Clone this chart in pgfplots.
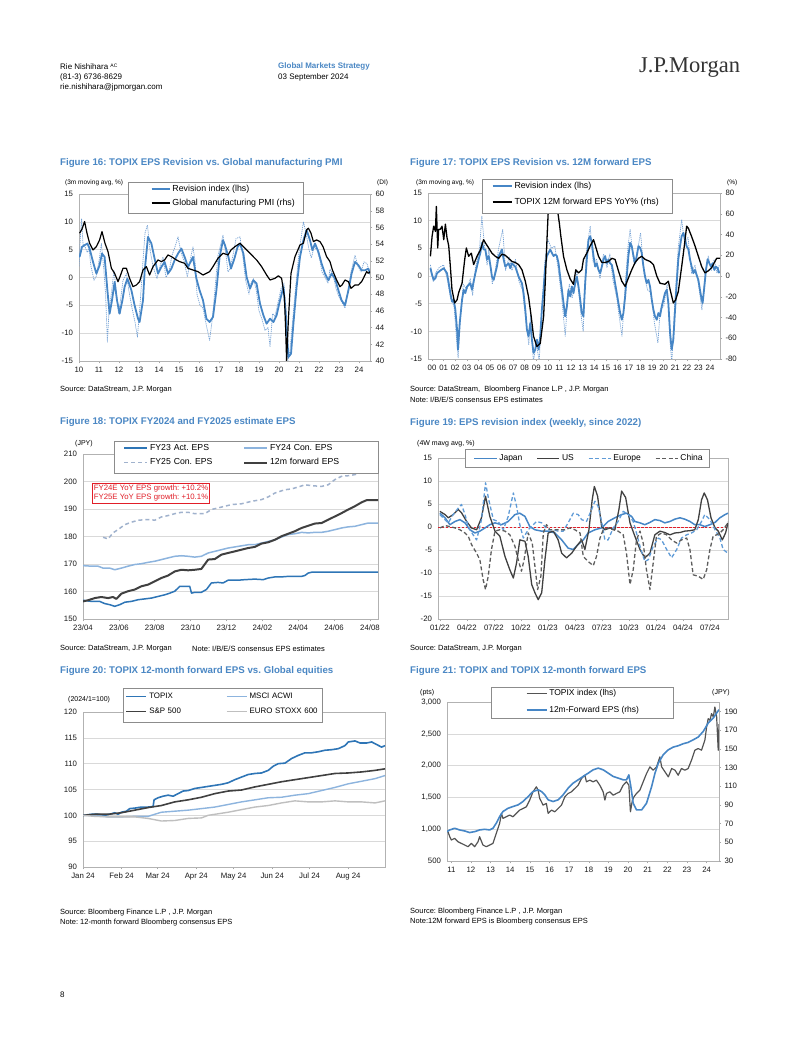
\documentclass[border=0pt]{standalone}
\usepackage{fontspec}
\setmainfont{Liberation Sans}
\newfontfamily\jpserif{Liberation Serif}
\usepackage{pgfplots}
\pgfplotsset{compat=1.18}
\newcommand\fs[2]{\fontsize{#1bp}{#2bp}\selectfont}
\definecolor{jpblue}{RGB}{70,134,198}
\definecolor{jptitle}{RGB}{74,135,196}
\definecolor{jpdark}{RGB}{64,64,64}
\definecolor{jplight}{RGB}{141,180,222}
\definecolor{jpgreyl}{RGB}{191,191,191}
\definecolor{jpdashb}{RGB}{160,178,205}
\definecolor{jpeu}{RGB}{95,155,215}
\definecolor{jpred}{RGB}{225,30,40}
\definecolor{dotblue}{RGB}{115,160,212}
\definecolor{jpfy23}{RGB}{46,117,182}
\pgfplotsset{
 jpbase/.style={scale only axis, anchor=north west, clip mode=individual,
   axis line style={draw=black!30, line width=0.5pt},
   tick label style={font=\fs{7.8}{9}, text=black!90},
   tick align=outside, major tick length=2.5bp,
   every axis plot/.append style={line join=round},
   legend cell align=left,
   legend style={draw=none, fill=none, inner sep=0pt, text=black, anchor=north west},
 },
 jpL/.style={jpbase, ymajorgrids, grid style={draw=black!15, line width=0.4pt},
   xtick pos=bottom, ytick pos=left, ytick style={draw=none}, xtick style={draw=black!35, line width=0.5pt}},
 jpR/.style={jpbase, axis x line=none, axis y line*=right, ytick style={draw=black!35}, major tick length=2bp},
 legline/.style={legend image code/.code={\draw[##1] (0bp,0bp) -- (#1,0bp);}},
}
\tikzset{txt/.style={anchor=west, inner sep=0pt}, lgbox/.style={draw=black!45, fill=white, line width=0.5pt}}
\begin{document}
\frenchspacing
\begin{tikzpicture}
\path[use as bounding box, fill=white] (0,0) rectangle (802bp,1037bp);
% header
\node[txt, font=\fs{8}{9.6}] at (60bp,970bp) {Rie Nishihara \raisebox{2.5bp}{\fs{5}{6}AC}};
\node[txt, font=\fs{8}{9.6}] at (60bp,960bp) {(81-3) 6736-8629};
\node[txt, font=\fs{8}{9.6}] at (60bp,950bp) {rie.nishihara@jpmorgan.com};
\node[txt, font=\bfseries\fs{8}{9.6}, text=jptitle] at (278bp,971bp) {Global Markets Strategy};
\node[txt, font=\fs{8}{9.6}] at (278bp,960bp) {03 September 2024};
\node[txt, font=\jpserif\fs{22.5}{26}, text=black!80] at (639bp,969bp) {J.P.Morgan};
% titles
\node[txt, font=\bfseries\fs{9.7}{11}, text=jptitle] at (60bp,874bp) {Figure 16: TOPIX EPS Revision vs. Global manufacturing PMI};
\node[txt, font=\bfseries\fs{9.7}{11}, text=jptitle] at (410bp,874bp) {Figure 17: TOPIX EPS Revision vs. 12M forward EPS};
\node[txt, font=\bfseries\fs{9.7}{11}, text=jptitle] at (60bp,615bp) {Figure 18: TOPIX FY2024 and FY2025 estimate EPS};
\node[txt, font=\bfseries\fs{9.7}{11}, text=jptitle] at (410bp,614bp) {Figure 19: EPS revision index (weekly, since 2022)};
\node[txt, font=\bfseries\fs{9.7}{11}, text=jptitle] at (60bp,366bp) {Figure 20: TOPIX 12-month forward EPS vs. Global equities};
\node[txt, font=\bfseries\fs{9.7}{11}, text=jptitle] at (410bp,366bp) {Figure 21: TOPIX and TOPIX 12-month forward EPS};
% unit labels
\node[txt, font=\fs{6.5}{8}] at (65bp,854bp) {(3m moving avg, \%)};
\node[txt, font=\fs{6.5}{8}] at (377bp,854bp) {(DI)};
\node[txt, font=\fs{6.5}{8}] at (416bp,854bp) {(3m moving avg, \%)};
\node[txt, font=\fs{6.5}{8}] at (727bp,854bp) {(\%)};
\node[txt, font=\fs{7}{8}] at (75bp,593bp) {(JPY)};
\node[txt, font=\fs{7}{8}] at (417bp,593bp) {(4W mavg avg, \%)};
\node[txt, font=\fs{7}{8}] at (68bp,337bp) {(2024/1=100)};
\node[txt, font=\fs{7}{8}] at (420bp,344bp) {(pts)};
\node[txt, font=\fs{7}{8}] at (712bp,344bp) {(JPY)};
% sources
\node[txt, font=\fs{7.5}{9}] at (60bp,647bp) {Source: DataStream, J.P. Morgan};
\node[txt, font=\fs{7.5}{9}] at (410bp,647bp) {Source: DataStream,\ \ Bloomberg Finance L.P , J.P. Morgan};
\node[txt, font=\fs{7.5}{9}] at (410bp,637bp) {Note: I/B/E/S consensus EPS estimates};
\node[txt, font=\fs{7.5}{9}] at (60bp,388bp) {Source: DataStream, J.P. Morgan};
\node[txt, font=\fs{7.5}{9}] at (192bp,388bp) {Note: I/B/E/S consensus EPS estimates};
\node[txt, font=\fs{7.5}{9}] at (410bp,388bp) {Source: DataStream, J.P. Morgan};
\node[txt, font=\fs{7.5}{9}] at (60bp,124bp) {Source: Bloomberg Finance L.P , J.P. Morgan};
\node[txt, font=\fs{7.5}{9}] at (60bp,114bp) {Note: 12-month forward Bloomberg consensus EPS};
\node[txt, font=\fs{7.5}{9}] at (410bp,125bp) {Source: Bloomberg Finance L.P , J.P. Morgan};
\node[txt, font=\fs{7.5}{9}] at (410bp,115bp) {Note:12M forward EPS is Bloomberg consensus EPS};
\node[txt, font=\fs{8}{9.6}] at (60bp,42bp) {8};

% ================= Figure 16 =================
\begin{axis}[jpL, at={(79bp,843bp)}, width=291bp, height=167bp,
  xmin=2010, xmax=2024.55, ymin=-15, ymax=15,
  xtick={2010,2011,2012,2013,2014,2015,2016,2017,2018,2019,2020,2021,2022,2023,2024},
  xticklabels={10,11,12,13,14,15,16,17,18,19,20,21,22,23,24},
  ytick={-15,-10,-5,0,5,10,15}, yticklabels={-15,-10,-5,0,5,10,15}]
\addplot[dotblue, line width=0.7pt, dash pattern=on 1.2pt off 0.9pt] coordinates {
(2010.0,2.0)(2010.08,8)(2010.13,10.6)(2010.2,6)(2010.3,5.5)(2010.42,4.5)(2010.5,5.2)(2010.6,2)(2010.75,-0.5)(2010.87,0.3)
(2011.0,3)(2011.12,6.1)(2011.25,1)(2011.33,-3)(2011.42,-11.6)(2011.5,-6)(2011.6,-3.3)(2011.75,1.3)(2011.85,-2)(2011.98,-6.5)
(2012.08,-4)(2012.2,-0.5)(2012.37,0.7)(2012.5,-2.5)(2012.65,-5.5)(2012.8,-8)(2012.92,-10.7)(2013.05,-5)(2013.2,3)(2013.3,8)
(2013.42,9.4)(2013.55,5)(2013.7,2)(2013.9,-0.2)(2014.05,2)(2014.2,3.7)(2014.35,0)(2014.5,1)(2014.65,4)(2014.8,5.5)
(2014.95,7.3)(2015.1,4.5)(2015.25,3)(2015.42,0.1)(2015.55,3)(2015.7,5.5)(2015.8,3)(2015.9,-3)(2016.05,-5)(2016.2,-5.5)
(2016.35,-8.3)(2016.53,-11.3)(2016.68,-7)(2016.8,-2)(2016.95,4)(2017.2,7.6)(2017.35,4)(2017.45,1)(2017.55,1.5)(2017.7,4)
(2017.85,7)(2018.05,7.3)(2018.2,3.5)(2018.33,-0.5)(2018.5,-3)(2018.6,-1)(2018.72,-0.2)(2018.85,-2)(2019.0,-6)(2019.15,-7.5)
(2019.3,-9.5)(2019.45,-9)(2019.55,-12.5)(2019.68,-6.5)(2019.8,-7)(2019.95,-4.5)(2020.1,-2)(2020.25,-1)(2020.35,-9)(2020.45,-14.9)
(2020.55,-13)(2020.7,-7)(2020.85,-1)(2021.0,4.5)(2021.1,7)(2021.22,10)(2021.35,8)(2021.5,5)(2021.62,3.5)(2021.75,5.5)
(2021.9,5)(2022.05,3)(2022.15,1)(2022.3,0)(2022.45,-1)(2022.55,1.5)(2022.7,0.5)(2022.85,-2)(2023.0,-3.5)(2023.15,-4.5)
(2023.3,-5.5)(2023.45,-2.5)(2023.6,1)(2023.8,4)(2023.95,2)(2024.1,1)(2024.25,2.8)(2024.4,2.5)(2024.55,0.5)};
\addplot[jpblue, line width=1.8pt] coordinates {
(2010.03,3.7)(2010.15,5.5)(2010.28,5.8)(2010.42,6.1)(2010.53,5.2)(2010.70,2.8)(2010.87,0.7)(2011.03,2.2)(2011.15,4.3)(2011.28,3.7)
(2011.42,-2.3)(2011.53,-6.5)(2011.65,-4.1)(2011.78,-0.8)(2011.90,-4.1)(2012.03,-6.5)(2012.17,-4.1)(2012.28,-1.7)(2012.42,-0.2)(2012.62,-2.3)
(2012.78,-5.0)(2012.95,-7.4)(2013.03,-8.0)(2013.2,-4.1)(2013.28,1.0)(2013.45,7.3)(2013.62,6.1)(2013.78,3.4)(2013.95,0.7)(2014.12,1.9)
(2014.28,2.8)(2014.45,0.7)(2014.62,1.6)(2014.78,3.1)(2014.95,4.3)(2015.12,5.2)(2015.28,3.7)(2015.45,1.9)(2015.62,3.1)(2015.70,3.7)
(2015.87,-0.2)(2016.03,-2.3)(2016.2,-4.1)(2016.37,-7.4)(2016.53,-8.0)(2016.70,-7.1)(2016.87,-2.3)(2017.03,3.7)(2017.2,6.7)(2017.3,5.8)
(2017.47,3.7)(2017.6,1.6)(2017.77,3.4)(2017.93,5.5)(2018.05,6.1)(2018.22,4.3)(2018.38,0.1)(2018.55,-2.0)(2018.72,-0.5)(2018.88,-1.1)
(2019.05,-4.7)(2019.22,-6.8)(2019.38,-8.3)(2019.55,-7.4)(2019.72,-8.0)(2019.88,-6.8)(2020.05,-4.1)(2020.22,-1.7)(2020.33,-6)(2020.47,-14.3)
(2020.6,-13.7)(2020.72,-8.3)(2020.88,-1.7)(2021.05,3.7)(2021.22,6.7)(2021.38,8.5)(2021.55,6.7)(2021.67,4.9)(2021.8,6.1)(2021.97,4.6)
(2022.13,2.5)(2022.3,0.7)(2022.47,-0.5)(2022.63,0.7)(2022.8,-0.2)(2022.97,-2.3)(2023.13,-4.1)(2023.3,-5.0)(2023.47,-2.3)(2023.63,0.7)
(2023.8,2.8)(2023.97,2.2)(2024.13,1.3)(2024.3,1.3)(2024.47,1.6)(2024.55,0.7)};
\end{axis}
\begin{axis}[jpR, at={(79bp,843bp)}, width=291bp, height=167bp,
  xmin=2010, xmax=2024.55, ymin=40, ymax=60,
  ytick={40,42,44,46,48,50,52,54,56,58,60}, yticklabels={40,42,44,46,48,50,52,54,56,58,60},
  legline=18bp,
  legend style={at={(0.2457,1.066)}, row sep=2bp, font=\fs{8.8}{10}}]
\addlegendimage{jpblue, line width=1.8pt}\addlegendentry{Revision index (lhs)}
\addplot[black, line width=1.2pt] coordinates {
(2010.03,55.3)(2010.15,55.8)(2010.28,56.7)(2010.4,55.3)(2010.53,54.1)(2010.7,53.3)(2010.87,53.7)(2011.03,54.5)(2011.15,55.5)(2011.3,54.1)
(2011.45,53.1)(2011.62,51.1)(2011.78,50.5)(2011.95,49.5)(2012.05,50.1)(2012.2,51.1)(2012.37,51.1)(2012.53,49.9)(2012.7,48.9)(2012.87,49.1)
(2013.03,49.5)(2013.2,50.9)(2013.37,51.3)(2013.53,50.3)(2013.7,51.3)(2013.95,52.1)(2014.12,51.9)(2014.28,52.1)(2014.45,52.7)(2014.62,52.5)
(2014.87,52.1)(2015.03,51.9)(2015.28,51.7)(2015.45,51.1)(2015.7,50.9)(2015.95,50.7)(2016.2,50.3)(2016.37,50.5)(2016.53,50.7)(2016.7,51.3)
(2016.95,52.3)(2017.2,52.9)(2017.45,52.7)(2017.6,53.3)(2017.8,53.7)(2018.05,54.1)(2018.22,53.7)(2018.38,53.3)(2018.63,52.7)(2018.88,52.1)
(2019.13,51.3)(2019.38,50.3)(2019.55,49.7)(2019.8,49.9)(2019.97,50.2)(2020.13,49.9)(2020.27,47.7)(2020.33,44)(2020.38,40.0)(2020.47,45)
(2020.6,50.5)(2020.8,52.5)(2021.05,53.9)(2021.22,54.1)(2021.38,55.7)(2021.47,55.9)(2021.6,55.3)(2021.72,54.3)(2021.88,54.5)(2022.05,54.3)
(2022.2,53.7)(2022.38,52.5)(2022.55,51.9)(2022.67,50.9)(2022.88,49.7)(2023.05,48.9)(2023.15,49.1)(2023.3,49.7)(2023.47,49.5)(2023.6,48.7)
(2023.8,49.1)(2023.97,49.1)(2024.13,49.5)(2024.22,49.9)(2024.38,50.7)(2024.47,50.5)(2024.55,50.7)};
\addlegendentry{Global manufacturing PMI (rhs)}
\draw[lgbox] (rel axis cs:0.1684,1.0719) rectangle (rel axis cs:0.7698,0.8862);
\end{axis}

% ================= Figure 17 =================
\begin{axis}[jpL, at={(428bp,844bp)}, width=292bp, height=166bp,
  xmin=1999.65, xmax=2024.86, ymin=-15, ymax=15,
  xtick={2000,2001,2002,2003,2004,2005,2006,2007,2008,2009,2010,2011,2012,2013,2014,2015,2016,2017,2018,2019,2020,2021,2022,2023,2024},
  xticklabels={00,01,02,03,04,05,06,07,08,09,10,11,12,13,14,15,16,17,18,19,20,21,22,23,24},
  ytick={-15,-10,-5,0,5,10,15}, yticklabels={-15,-10,-5,0,5,10,15}]
\addplot[dotblue, line width=0.7pt, dash pattern=on 1.2pt off 0.9pt] coordinates {
(1999.86,2)(2000.1,-1)(2000.3,0.5)(2000.6,1.5)(2001.0,2)(2001.3,-0.5)(2001.6,-4)(2001.9,-5.5)(2002.1,-11)(2002.25,-14.8)
(2002.45,-7)(2002.7,-1.5)(2003.0,-2.5)(2003.3,-0.5)(2003.5,-3.5)(2003.75,1.5)(2004.1,5)(2004.3,10.8)(2004.5,6)(2004.75,2)
(2004.9,5)(2005.2,-1.5)(2005.45,1)(2005.75,5)(2006.1,8.4)(2006.35,1)(2006.65,3.5)(2006.9,1)(2007.2,3)(2007.5,-1)
(2007.8,-2.5)(2008.1,-8)(2008.35,-12.5)(2008.5,-7)(2008.75,-15.5)(2009.0,-12)(2009.25,-15.5)(2009.5,-5)(2009.75,3)(2010.0,6.6)
(2010.3,5)(2010.6,5.4)(2010.9,1)(2011.2,-4)(2011.5,-10.9)(2011.7,-4)(2011.85,-1.5)(2012.1,-4)(2012.5,1)(2012.8,-6)
(2013.05,-10)(2013.3,4)(2013.65,9.0)(2013.9,2.5)(2014.2,3)(2014.5,-0.5)(2014.8,4)(2015.1,1.5)(2015.35,4)(2015.6,-0.5)
(2015.95,-4)(2016.2,-8)(2016.4,-10.9)(2016.65,-2.5)(2016.9,5)(2017.1,8.4)(2017.4,2.5)(2017.6,3)(2018.0,7.8)(2018.3,0.5)
(2018.6,-2.5)(2018.9,-3)(2019.2,-8.5)(2019.5,-12.1)(2019.7,-6)(2020.0,-5.5)(2020.3,-1.5)(2020.55,-12)(2020.7,-15.7)(2020.95,-5)
(2021.25,5)(2021.55,10.2)(2021.8,6)(2022.1,7)(2022.4,0.5)(2022.7,2)(2023.0,-1.5)(2023.3,-6.1)(2023.6,1)(2023.85,3.6)
(2024.1,1)(2024.35,3)(2024.6,0.5)(2024.8,2)};
\addplot[jpblue, line width=1.8pt] coordinates {
(1999.86,1.4)(2000.0,0.2)(2000.14,-0.7)(2000.29,-0.4)(2000.43,0.5)(2000.72,1.0)(2001.01,1.4)(2001.29,0.5)(2001.44,-1.3)(2001.58,-3.1)
(2001.72,-4.6)(2001.87,-4.3)(2002.01,-6.1)(2002.16,-9.7)(2002.24,-13.3)(2002.39,-8.5)(2002.59,-4.3)(2002.73,-2.5)(2002.87,-3.1)(2003.02,-1.9)
(2003.30,-1.3)(2003.45,-2.5)(2003.59,-1.0)(2003.74,0.5)(2004.02,3.0)(2004.17,4.2)(2004.31,6.0)(2004.45,4.8)(2004.60,4.8)(2004.74,3.0)
(2004.89,3.6)(2005.03,2.0)(2005.17,-0.1)(2005.32,-0.7)(2005.46,0.5)(2005.60,1.7)(2005.75,3.6)(2006.03,4.8)(2006.18,3.0)(2006.32,1.7)
(2006.61,2.3)(2006.75,1.4)(2006.90,2.3)(2007.18,1.7)(2007.47,-0.1)(2007.76,-1.3)(2007.90,-3.1)(2008.05,-6.1)(2008.19,-9.7)(2008.33,-10.9)
(2008.48,-8.5)(2008.62,-11.5)(2008.76,-13.9)(2008.91,-13.3)(2009.05,-11.5)(2009.20,-13.3)(2009.34,-10.9)(2009.48,-6.1)(2009.63,-2.5)(2009.77,1.7)
(2009.91,3.6)(2010.06,4.2)(2010.20,4.8)(2010.34,4.2)(2010.49,3.6)(2010.63,3.9)(2010.78,3.6)(2010.92,2.3)(2011.06,-0.1)(2011.21,-2.5)
(2011.35,-4.9)(2011.49,-7.3)(2011.64,-5.5)(2011.78,-2.5)(2011.93,-3.7)(2012.07,-1.9)(2012.21,-3.1)(2012.36,-1.3)(2012.50,-0.1)(2012.64,-1.9)
(2012.79,-4.3)(2012.93,-6.7)(2013.07,-7.3)(2013.22,-1.3)(2013.36,3.0)(2013.51,6.6)(2013.65,7.2)(2013.79,6.0)(2013.94,3.6)(2014.08,1.7)
(2014.22,2.3)(2014.37,1.1)(2014.51,0.5)(2014.66,1.7)(2014.80,3.0)(2014.94,3.6)(2015.09,2.3)(2015.23,3.0)(2015.37,2.3)(2015.52,2.0)
(2015.66,0.5)(2015.80,-1.3)(2015.95,-3.1)(2016.09,-4.9)(2016.24,-6.7)(2016.38,-7.9)(2016.52,-6.7)(2016.67,-3.7)(2016.81,-0.1)(2016.95,3.6)
(2017.10,6.0)(2017.24,5.4)(2017.39,3.6)(2017.53,2.3)(2017.67,3.6)(2017.82,5.4)(2017.96,5.1)(2018.10,4.2)(2018.25,1.7)(2018.39,-0.1)
(2018.53,-1.3)(2018.68,-0.7)(2018.82,-1.9)(2018.97,-4.3)(2019.11,-6.1)(2019.25,-7.3)(2019.40,-7.9)(2019.54,-6.7)(2019.68,-7.3)(2019.83,-5.5)
(2019.97,-4.3)(2020.11,-3.1)(2020.26,-2.5)(2020.40,-4.9)(2020.55,-10.3)(2020.69,-13.3)(2020.83,-11.5)(2020.98,-6.1)(2021.12,-1.3)(2021.26,3.0)
(2021.41,5.4)(2021.55,7.2)(2021.70,7.8)(2021.84,6.6)(2021.98,5.4)(2022.13,4.8)(2022.27,3.0)(2022.41,1.7)(2022.56,0.5)(2022.70,1.1)
(2022.84,0.2)(2022.99,-0.7)(2023.13,-2.5)(2023.28,-4.3)(2023.36,-4.9)(2023.51,-1.9)(2023.65,1.1)(2023.79,3.0)(2023.94,2.3)(2024.08,1.7)
(2024.22,2.3)(2024.37,1.1)(2024.51,1.7)(2024.66,1.4)(2024.80,0.5)};
\end{axis}
\begin{axis}[jpR, at={(428bp,844bp)}, width=292bp, height=166bp,
  xmin=1999.65, xmax=2024.86, ymin=-80, ymax=80,
  ytick={-80,-60,-40,-20,0,20,40,60,80}, yticklabels={-80,-60,-40,-20,0,20,40,60,80},
  legline=19bp,
  legend style={at={(0.2175,1.078)}, row sep=4bp, font=\fs{8.8}{10}}]
\addlegendimage{jpblue, line width=1.8pt}\addlegendentry{Revision index (lhs)}
\addplot[black, line width=1.3pt] coordinates {
(1999.86,19)(2000.0,38)(2000.14,48)(2000.29,43)(2000.37,67)(2000.49,27)(2000.57,45)(2000.72,45)(2000.86,48)(2001.01,35)
(2001.15,50)(2001.29,37)(2001.44,29)(2001.58,9)(2001.72,-13)(2001.95,-26)(2002.16,-23)(2002.30,-16)(2002.59,-7)(2002.82,16)
(2002.96,27)(2003.16,19)(2003.39,22)(2003.59,11)(2003.88,19)(2004.17,25)(2004.45,35)(2004.60,32)(2004.89,27)(2005.17,22)
(2005.46,19)(2005.75,17)(2006.03,21)(2006.32,20)(2006.61,17)(2006.90,14)(2007.18,13)(2007.47,11)(2007.76,6)(2008.05,-5)
(2008.33,-20)(2008.56,-39)(2008.76,-58)(2009.05,-68)(2009.34,-65)(2009.63,-39)(2009.77,-7)(2009.91,32)(2010.06,70)(2010.15,82)
(2010.3,100)(2010.55,100)(2010.72,80)(2010.85,62)(2011.0,50)(2011.1,40)(2011.35,19)(2011.64,6)(2011.93,-3)(2012.21,-8)
(2012.41,6)(2012.64,3)(2012.93,6)(2013.07,16)(2013.36,22)(2013.65,29)(2013.94,35)(2014.08,30)(2014.37,19)(2014.66,13)
(2014.94,13)(2015.23,14)(2015.52,17)(2015.80,16)(2016.09,5)(2016.38,-5)(2016.67,-10)(2016.95,-2)(2017.24,6)(2017.53,13)
(2017.82,17)(2018.10,19)(2018.39,16)(2018.82,14)(2019.11,11)(2019.40,0)(2019.68,-7)(2020.11,-8)(2020.40,-5)(2020.55,-13)
(2020.83,-26)(2021.03,-23)(2021.26,-15)(2021.55,9)(2021.78,29)(2021.98,48)(2022.13,46)(2022.41,38)(2022.70,29)(2022.99,19)
(2023.28,9)(2023.56,3)(2023.85,5)(2024.14,8)(2024.28,11)(2024.57,17)(2024.86,17)};
\addlegendentry{TOPIX 12M forward EPS YoY\% (rhs)}
\draw[lgbox] (rel axis cs:0.185,1.0843) rectangle (rel axis cs:0.8356,0.8795);
\end{axis}

% ================= Figure 18 =================
\begin{axis}[jpL, at={(83bp,583bp)}, width=295bp, height=165bp,
  xmin=0, xmax=16.45, ymin=150, ymax=210,
  xtick={0,2,4,6,8,10,12,14,16},
  xticklabels={23/04,23/06,23/08,23/10,23/12,24/02,24/04,24/06,24/08},
  ytick={150,160,170,180,190,200,210}, yticklabels={150,160,170,180,190,200,210},
  legend columns=2, legline=23bp,
  legend style={at={(0.137,1.073)}, row sep=3bp, font=\fs{8.7}{10},
    nodes={text width=85bp}, /tikz/every even column/.append style={column sep=6bp}}]
\addplot[jpfy23, line width=1.5pt] coordinates {
(0,156.8)(0.47,156.4)(0.93,156.4)(1.21,155.6)(1.49,155.2)(1.77,154.6)(2.05,155.2)(2.33,156.1)(2.70,156.4)(3.07,157.0)
(3.44,157.3)(3.81,157.6)(4.19,158.2)(4.56,158.8)(4.84,159.4)(5.12,160.1)(5.40,161.9)(5.77,161.9)(5.95,161.9)(6.05,159.4)
(6.23,159.7)(6.60,159.7)(6.88,160.7)(7.16,163.1)(7.53,163.3)(7.81,163.1)(8.09,164.1)(8.65,164.1)(9.02,164.3)(9.58,164.5)
(10.05,164.3)(10.33,164.9)(10.70,165.3)(11.07,165.3)(11.44,165.5)(11.81,165.5)(12.19,165.5)(12.37,165.8)(12.56,166.7)(12.74,167.0)
(13.30,167.0)(16.45,167.0)};
\addlegendentry{FY23 Act. EPS}
\addplot[jplight, line width=1.5pt] coordinates {
(0,169.4)(0.47,169.2)(0.84,169.2)(1.12,168.5)(1.49,168.5)(1.77,167.9)(2.14,168.5)(2.51,169.2)(2.88,169.8)(3.26,170.1)
(3.63,170.6)(4.0,171.0)(4.37,171.6)(4.74,172.2)(5.12,172.8)(5.49,173.0)(5.86,172.8)(6.23,172.5)(6.60,172.8)(6.98,174.0)
(7.35,174.6)(7.72,175.2)(8.09,175.8)(8.65,176.4)(9.21,177.0)(9.58,177.0)(9.95,177.6)(10.33,178.2)(10.70,178.8)(11.07,179.8)
(11.44,180.7)(11.81,181.0)(12.19,181.5)(12.56,181.3)(12.93,181.5)(13.30,181.5)(13.67,181.9)(14.05,182.5)(14.42,183.1)(14.79,183.5)
(15.16,183.7)(15.53,184.3)(15.91,184.9)(16.45,184.9)};
\addlegendentry{FY24 Con. EPS}
\addplot[jpdashb, line width=1.5pt, dash pattern=on 4pt off 3pt] coordinates {
(1.12,179.7)(1.40,179.1)(1.67,181.3)(1.95,182.5)(2.33,184.3)(2.70,185.2)(3.07,185.9)(3.44,186.1)(3.81,186.1)(4.0,185.9)
(4.37,187.1)(4.74,187.6)(5.12,188.3)(5.49,188.8)(5.86,188.8)(6.23,188.3)(6.79,188.3)(7.16,189.8)(7.53,190.4)(7.91,191.0)
(8.28,191.6)(8.84,191.9)(9.40,192.8)(9.95,193.4)(10.33,194.4)(10.70,195.8)(11.26,197.0)(11.63,197.3)(12.0,198.0)(12.37,198.8)
(12.74,198.5)(13.30,198.2)(13.67,198.8)(14.05,200.7)(14.42,201.9)(14.79,202.1)(15.16,202.5)(15.53,203.3)(15.91,203.6)(16.45,203.3)};
\addlegendentry{FY25 Con. EPS}
\addplot[jpdark, line width=2pt] coordinates {
(0,156.4)(0.28,156.8)(0.65,157.6)(1.02,158.0)(1.40,157.6)(1.67,158.0)(1.86,157.3)(2.14,159.2)(2.51,160.1)(2.88,160.7)
(3.26,161.9)(3.63,162.5)(4.0,163.7)(4.37,164.9)(4.74,165.8)(5.12,167.3)(5.49,167.9)(5.86,167.7)(6.23,167.9)(6.60,168.2)
(6.98,171.6)(7.35,171.8)(7.72,173.4)(8.09,174.0)(8.47,174.6)(8.84,175.2)(9.21,175.8)(9.58,176.2)(9.95,177.4)(10.33,177.9)
(10.70,178.8)(11.07,180.1)(11.44,181.0)(11.81,181.9)(12.19,183.1)(12.56,183.9)(12.93,184.7)(13.30,184.9)(13.67,186.1)(14.05,187.3)
(14.42,188.5)(14.79,189.8)(15.16,191.0)(15.53,192.4)(15.81,193.2)(16.45,193.2)};
\addlegendentry{12m forward EPS}
\draw[lgbox] (rel axis cs:0.105,1.0788) rectangle (rel axis cs:1.0,0.8848);
\end{axis}
\node[draw=jpred, fill=white, text=jpred, font=\fs{7.8}{9.5}, align=left, inner sep=1.5bp, line width=0.5pt] at (151bp,544bp) {FY24E YoY EPS growth: +10.2\%\\FY25E YoY EPS growth: +10.1\%};

% ================= Figure 19 =================
\begin{axis}[jpL, at={(438bp,579bp)}, width=290bp, height=161bp,
  xmin=-0.07, xmax=10.67, ymin=-20, ymax=15,
  xtick={0,1,2,3,4,5,6,7,8,9,10},
  xticklabels={01/22,04/22,07/22,10/22,01/23,04/23,07/23,10/23,01/24,04/24,07/24},
  ytick={-20,-15,-10,-5,0,5,10,15}, yticklabels={-20,-15,-10,-5,0,5,10,15},
  legend columns=4, legline=22bp, legend image post style={line width=1.6pt},
  legend style={at={(0.1224,1.034)}, font=\fs{8.5}{9.5},
    /tikz/every even column/.append style={column sep=12bp}}]
\addplot[jpred, line width=0.9pt, dash pattern=on 2.5pt off 1.5pt, forget plot] coordinates {(-0.07,0)(10.67,0)};
\addplot[jpblue, line width=1.5pt] coordinates {
(0,3.0)(0.19,2.0)(0.37,0.5)(0.56,1.2)(0.74,1.6)(0.93,0.9)(1.11,-0.6)(1.30,-1.3)(1.48,-0.9)(1.67,-0.2)
(1.85,0.5)(2.04,0.9)(2.28,0.5)(2.53,1.2)(2.78,2.7)(2.96,3.0)(3.15,2.3)(3.33,0.1)(3.52,-0.6)(3.77,-0.9)
(4.01,-0.9)(4.26,-1.3)(4.51,-2.8)(4.75,-4.6)(4.94,-4.9)(5.12,-3.8)(5.31,-2.8)(5.49,-1.3)(5.74,-0.6)(5.99,-0.2)
(6.23,1.2)(6.48,2.0)(6.73,2.7)(6.91,3.0)(7.10,2.3)(7.22,1.2)(7.41,0.9)(7.59,0.5)(7.78,1.0)(7.96,1.6)
(8.15,1.4)(8.33,0.9)(8.52,1.2)(8.70,1.7)(8.89,2.0)(9.07,1.7)(9.26,1.2)(9.44,0.5)(9.63,0.5)(9.81,0.1)
(10.0,0.5)(10.19,1.0)(10.37,2.0)(10.56,2.7)(10.67,3.0)};
\addlegendentry{Japan}
\addplot[jpdark, line width=1.3pt] coordinates {
(0,3.4)(0.19,2.7)(0.31,2.0)(0.49,2.7)(0.68,3.8)(0.80,3.1)(0.99,1.2)(1.17,-0.2)(1.36,-0.6)(1.54,2.0)
(1.69,6.7)(1.85,2.3)(2.04,-0.9)(2.22,-2.0)(2.41,-6.4)(2.59,-9.3)(2.72,-11.1)(2.84,-7.8)(2.96,-2.8)(3.15,-3.1)
(3.27,-6.4)(3.40,-12.5)(3.52,-14.3)(3.64,-15.8)(3.77,-14.3)(3.89,-7.1)(4.01,-1.3)(4.20,-0.9)(4.38,-2.8)(4.51,-5.7)
(4.69,-6.7)(4.88,-5.7)(5.06,-4.2)(5.25,-2.8)(5.37,-4.9)(5.52,-0.6)(5.64,5.9)(5.72,8.8)(5.84,6.7)(5.99,0.1)
(6.11,-0.6)(6.30,-0.2)(6.48,-0.6)(6.63,3.8)(6.73,7.8)(6.88,6.4)(7.04,0.9)(7.22,-2.0)(7.41,-4.9)(7.59,-6.7)
(7.78,-5.7)(7.96,-1.7)(8.15,-0.9)(8.33,-1.2)(8.52,-1.7)(8.70,-1.3)(8.89,-1.2)(9.07,-0.9)(9.26,-0.8)(9.44,-0.6)
(9.57,1.6)(9.69,5.9)(9.79,7.4)(9.91,5.9)(10.04,2.0)(10.19,-0.2)(10.31,-0.9)(10.46,-2.8)(10.58,-1.3)(10.67,0.9)};
\addlegendentry{US}
\addplot[jpeu, line width=1.3pt, dash pattern=on 4pt off 2.5pt] coordinates {
(0,2.7)(0.12,2.0)(0.31,0.9)(0.49,2.7)(0.68,4.1)(0.80,4.9)(0.93,2.7)(1.05,0.1)(1.23,-1.7)(1.36,-2.8)
(1.54,1.6)(1.69,9.6)(1.81,5.9)(1.98,1.6)(2.16,1.2)(2.35,-0.6)(2.53,2.3)(2.72,7.4)(2.84,4.5)(2.96,0.5)
(3.09,-2.4)(3.27,-0.6)(3.46,0.5)(3.58,1.2)(3.77,0.9)(3.89,0.1)(4.01,-0.6)(4.20,-0.6)(4.38,-0.9)(4.57,-0.9)
(4.75,0.9)(4.94,3.0)(5.12,2.7)(5.25,1.6)(5.43,1.2)(5.62,3.8)(5.74,5.6)(5.86,4.5)(5.99,1.2)(6.11,-2.8)
(6.23,-2.8)(6.42,-0.2)(6.60,1.2)(6.79,3.4)(6.98,2.7)(7.16,1.2)(7.28,-1.3)(7.41,-4.2)(7.59,-7.5)(7.72,-7.1)
(7.90,-4.2)(8.09,-2.4)(8.21,-2.8)(8.40,-4.9)(8.58,-6.7)(8.77,-4.9)(8.95,-2.4)(9.14,-1.7)(9.32,-1.3)(9.51,-0.6)
(9.69,1.2)(9.81,2.7)(10.0,1.6)(10.19,-0.6)(10.37,-2.4)(10.49,-4.9)(10.67,-5.7)};
\addlegendentry{Europe}
\addplot[jpdark!85, line width=1.3pt, dash pattern=on 4pt off 2.5pt] coordinates {
(0,-0.2)(0.19,0.3)(0.37,0.1)(0.56,-0.2)(0.74,-0.6)(0.93,-1.3)(1.05,-2.0)(1.17,-3.8)(1.36,-5.7)(1.48,-7.1)
(1.60,-11.4)(1.69,-13.6)(1.79,-10.7)(1.91,-4.9)(2.04,-0.9)(2.22,-0.6)(2.41,-0.9)(2.59,-1.7)(2.78,-4.2)(2.90,-7.1)
(3.02,-9.6)(3.12,-7.1)(3.27,-1.3)(3.42,-3.5)(3.52,-8.6)(3.62,-13.6)(3.74,-10.7)(3.83,-1.3)(3.95,0.5)(4.07,-0.6)
(4.26,-0.6)(4.44,-0.6)(4.63,-0.6)(4.81,-0.2)(5.0,-0.6)(5.19,-1.3)(5.31,-6.4)(5.49,-7.5)(5.68,-8.4)(5.80,-6.4)
(5.93,-2.4)(6.05,-0.6)(6.23,-0.2)(6.42,-0.6)(6.60,-0.9)(6.79,-1.7)(6.91,-5.7)(7.04,-12.5)(7.16,-9.3)(7.28,-2.8)
(7.41,-0.9)(7.53,-3.5)(7.65,-9.3)(7.78,-13.6)(7.90,-7.8)(8.02,-2.0)(8.21,-1.3)(8.40,-1.7)(8.58,-2.8)(8.77,-3.5)
(8.95,-2.8)(9.14,-2.4)(9.26,-4.9)(9.38,-10.4)(9.57,-10.7)(9.75,-11.4)(9.88,-9.3)(10.0,-4.9)(10.12,-2.0)(10.25,-1.7)
(10.37,-1.3)(10.49,-0.6)(10.62,0.5)(10.67,1.2)};
\addlegendentry{China}
\draw[lgbox] (rel axis cs:0.0931,1.0559) rectangle (rel axis cs:0.9345,0.944);
\end{axis}

% ================= Figure 20 =================
\begin{axis}[jpL, at={(83bp,325bp)}, width=302bp, height=155bp,
  xmin=0, xmax=242.6, ymin=90, ymax=120,
  xtick={0,31,60,91,121,152,182,213},
  xticklabels={Jan 24,Feb 24,Mar 24,Apr 24,May 24,Jun 24,Jul 24,Aug 24},
  ytick={90,95,100,105,110,115,120}, yticklabels={90,95,100,105,110,115,120},
  legend columns=2, legline=20bp,
  legend style={at={(0.1407,1.1355)}, row sep=4bp, font=\fs{7.9}{9.5},
    nodes={text width=70bp}, /tikz/every even column/.append style={column sep=5bp}}]
\addplot[jpfy23, line width=1.6pt] coordinates {
(0,100)(6.7,100.2)(12.1,100.2)(17.4,100)(22.8,100.3)(25.5,100.5)(28.2,100.2)(30.8,100.6)(34.9,100.8)(37.5,101.3)
(41.6,101.4)(46.9,101.6)(52.3,101.6)(56.3,101.7)(57.1,103.0)(60.3,103.4)(64.3,103.7)(68.4,103.9)(72.4,103.7)(76.4,104.2)
(80.4,104.7)(84.5,104.8)(89.8,105.2)(95.2,105.4)(100.5,105.6)(105.9,105.8)(111.3,106.0)(116.6,106.3)(122.0,106.9)(127.3,107.4)
(132.7,107.9)(138.1,108.1)(143.4,108.2)(148.8,108.7)(152.8,109.5)(156.8,110.0)(162.2,110.1)(167.6,111.0)(172.9,111.6)(178.3,112.1)
(183.6,112.1)(189.0,112.3)(194.4,112.6)(199.7,112.7)(205.1,112.9)(210.5,113.5)(213.1,114.2)(218.5,114.4)(222.5,114.0)(227.9,114.0)
(231.9,114.2)(235.9,113.7)(239.9,113.2)(242.6,113.5)};
\addlegendentry{TOPIX}
\addplot[jplight, line width=1.4pt] coordinates {
(0,100)(9.4,100)(20.1,99.7)(30.8,99.7)(41.6,99.8)(52.3,99.8)(57.6,100.2)(63.0,100.6)(73.7,100.8)(84.5,101.0)
(95.2,101.3)(105.9,101.6)(116.6,102.1)(127.3,102.6)(138.1,103.0)(148.8,103.4)(159.5,103.5)(170.2,103.9)(181.0,104.2)(191.7,104.8)
(202.4,105.4)(213.1,106.1)(223.9,106.6)(234.6,107.1)(242.6,107.7)};
\addlegendentry{MSCI ACWI}
\addplot[jpdark, line width=1.6pt] coordinates {
(0,100)(9.4,100.2)(20.1,100.2)(30.8,100.5)(41.6,101.0)(52.3,101.5)(63.0,101.9)(73.7,102.6)(84.5,103.0)(95.2,103.5)
(105.9,104.2)(116.6,104.7)(122,104.8)(127.3,104.9)(138.1,105.5)(148.8,106.0)(159.5,106.5)(170.2,106.9)(181.0,107.3)(191.7,107.7)
(202.4,108.1)(213.1,108.2)(223.9,108.4)(234.6,108.7)(242.6,109.0)};
\addlegendentry{S\&P 500}
\addplot[jpgreyl, line width=1.4pt] coordinates {
(0,100)(9.4,99.8)(20.1,99.7)(30.8,99.7)(41.6,99.7)(52.3,99.4)(63.0,98.9)(73.7,99.0)(84.5,99.4)(95.2,99.5)
(100.5,100)(105.9,100.2)(116.6,100.6)(127.3,101.1)(138.1,101.6)(148.8,101.9)(159.5,102.4)(170.2,102.8)(181.0,102.6)(191.7,102.6)
(202.4,102.8)(213.1,102.6)(223.9,102.6)(234.6,102.4)(242.6,102.8)};
\addlegendentry{EURO STOXX 600}
\draw[lgbox] (rel axis cs:0.1325,1.1548) rectangle (rel axis cs:0.7914,0.9355);
\end{axis}

% ================= Figure 21 =================
\begin{axis}[jpL, at={(447bp,335bp)}, width=272bp, height=159bp,
  xmin=2010.78, xmax=2024.63, ymin=500, ymax=3000,
  xtick={2011,2012,2013,2014,2015,2016,2017,2018,2019,2020,2021,2022,2023,2024},
  xticklabels={11,12,13,14,15,16,17,18,19,20,21,22,23,24},
  ytick={500,1000,1500,2000,2500,3000}, yticklabels={500,{1,000},{1,500},{2,000},{2,500},{3,000}}]
\addplot[jpdark!90, line width=1.2pt] coordinates {
(2010.83,960)(2010.92,882)(2011.0,830)(2011.17,856)(2011.34,803)(2011.51,777)(2011.68,751)(2011.85,725)(2012.02,777)(2012.19,725)
(2012.36,803)(2012.44,882)(2012.61,751)(2012.78,725)(2012.95,751)(2013.12,777)(2013.29,934)(2013.46,1091)(2013.55,1248)(2013.63,1170)
(2013.80,1196)(2013.97,1222)(2014.14,1196)(2014.31,1248)(2014.48,1300)(2014.65,1326)(2014.82,1352)(2014.99,1457)(2015.16,1588)(2015.33,1666)
(2015.42,1614)(2015.50,1483)(2015.59,1431)(2015.67,1379)(2015.84,1405)(2015.93,1248)(2016.10,1300)(2016.27,1274)(2016.44,1326)(2016.61,1379)
(2016.78,1509)(2016.95,1562)(2017.12,1588)(2017.29,1640)(2017.46,1692)(2017.63,1797)(2017.80,1849)(2017.88,1745)(2018.05,1771)(2018.22,1745)
(2018.39,1771)(2018.56,1692)(2018.73,1588)(2018.82,1457)(2018.90,1562)(2019.07,1588)(2019.24,1535)(2019.41,1562)(2019.58,1588)(2019.75,1692)
(2019.92,1745)(2020.04,1692)(2020.12,1274)(2020.21,1440)(2020.30,1509)(2020.43,1562)(2020.60,1614)(2020.77,1745)(2020.94,1875)(2021.11,1980)
(2021.28,1928)(2021.45,1980)(2021.62,2137)(2021.71,1980)(2021.88,1902)(2022.05,1823)(2022.22,1954)(2022.39,1928)(2022.55,1849)(2022.72,1954)
(2022.89,1928)(2023.06,1954)(2023.23,2085)(2023.40,2242)(2023.57,2268)(2023.74,2242)(2023.91,2399)(2024.0,2608)(2024.08,2738)(2024.17,2712)
(2024.25,2817)(2024.34,2765)(2024.42,2921)(2024.51,2765)(2024.59,2240)(2024.63,2650)};
\end{axis}
\begin{axis}[jpR, at={(447bp,335bp)}, width=272bp, height=159bp,
  xmin=2010.78, xmax=2024.63, ymin=30, ymax=200,
  ytick={30,50,70,90,110,130,150,170,190}, yticklabels={30,50,70,90,110,130,150,170,190},
  legline=20bp, legend image post style={line width=1.6pt},
  legend style={at={(0.2886,1.091)}, row sep=5bp, font=\fs{8.5}{9.8}}]
\addlegendimage{jpdark!90, line width=1.6pt}\addlegendentry{TOPIX index (lhs)}
\addplot[jpblue, line width=1.6pt] coordinates {
(2010.78,61.4)(2010.92,63.2)(2011.17,65.0)(2011.42,63.2)(2011.68,62.1)(2011.93,60.4)(2012.19,61.4)(2012.44,63.2)(2012.70,63.9)(2012.95,63.2)
(2013.12,65.0)(2013.29,70.4)(2013.46,77.5)(2013.63,82.9)(2013.89,86.4)(2014.14,88.2)(2014.40,90.0)(2014.65,93.6)(2014.91,98.9)(2015.16,104.3)
(2015.42,106.1)(2015.59,104.3)(2015.76,100.7)(2015.93,95.4)(2016.18,93.6)(2016.44,95.4)(2016.69,100.7)(2016.95,107.9)(2017.20,113.2)(2017.46,116.8)
(2017.71,120.4)(2017.97,123.9)(2018.22,127.5)(2018.48,129.3)(2018.73,127.5)(2018.99,123.9)(2019.24,120.4)(2019.50,118.6)(2019.75,116.8)(2019.92,116.8)
(2020.04,122.1)(2020.14,109.6)(2020.26,91.8)(2020.43,84.6)(2020.69,84.6)(2020.94,91.8)(2021.20,109.6)(2021.37,123.9)(2021.54,134.6)(2021.79,143.6)
(2022.05,148.9)(2022.30,151.8)(2022.55,153.2)(2022.81,155.4)(2023.06,156.8)(2023.32,159.6)(2023.57,162.5)(2023.83,168.6)(2024.08,177.5)(2024.34,182.9)
(2024.51,188.2)(2024.63,191.8)};
\addlegendentry{12m-Forward EPS (rhs)}
\draw[lgbox] (rel axis cs:0.1618,1.0943) rectangle (rel axis cs:0.8309,0.8994);
\end{axis}
\end{tikzpicture}
\end{document}
